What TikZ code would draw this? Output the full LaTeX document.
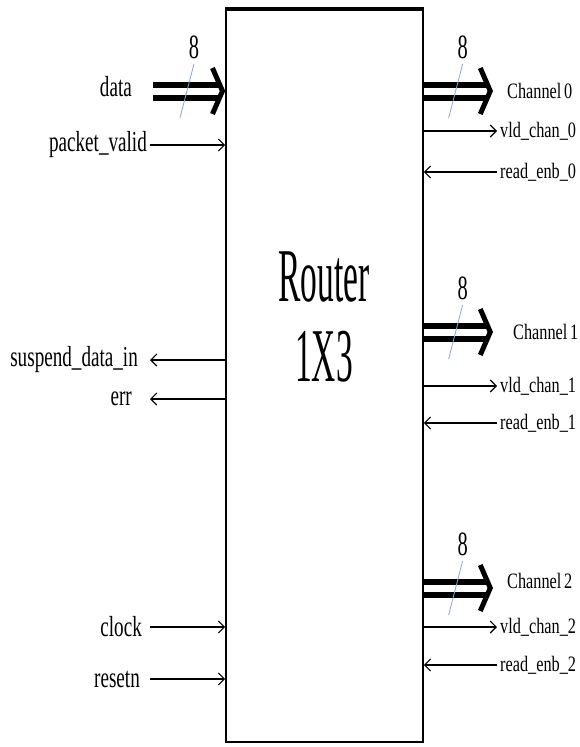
\documentclass[tikz,border=0pt]{standalone}
\usepackage{fontspec}
\setmainfont{Liberation Serif}
\usepackage{tikz}
\usetikzlibrary{arrows.meta,positioning,calc}
\definecolor{slashblue}{RGB}{140,165,205}

\begin{document}
\begin{tikzpicture}[
    x=1pt, y=-1pt,
    lbl/.style={font=\fontsize{29}{30}\selectfont, xscale=0.66, inner sep=0pt},
    rlbl/.style={font=\fontsize{22}{24}\selectfont, xscale=0.74, inner sep=0pt},
    num/.style={font=\fontsize{34}{36}\selectfont, xscale=0.6, inner sep=0pt, text=black},
    sig/.style={-{Straight Barb[length=6pt,width=12pt]}, line width=1.1pt},
    bus/.style={double, double distance=7pt, line width=6pt, -{Straight Barb[length=10pt,width=46pt,line width=5pt]}},
    tick/.style={slashblue, line width=0.8pt},
]
\useasboundingbox (0,0) rectangle (579,747);
% Router block
\node[draw, line width=1.6pt, minimum width=197pt, minimum height=732pt, inner sep=0pt] (router) at (324.5,376) {};
\draw[line width=3.5pt] (router.north west) -- (router.north east);
\node[font=\fontsize{76}{80}\selectfont, xscale=0.44, align=center, inner sep=0pt] (title) at (324,317) {Router\\1X3};
% Left ports
\coordinate (dtail) at (153,91);
\coordinate (pvtail) at (150,145);
\coordinate (sdtip) at (150,360);
\coordinate (errtip) at (150,399);
\coordinate (clktail) at (150,627);
\coordinate (rsttail) at (150,679);
\node[lbl, left=21pt of dtail, yshift=4pt] (data) {data};
\node[lbl, left=3pt of pvtail] (pvalid) {packet\_valid};
\node[lbl, left=12pt of sdtip] (susp) {suspend\_data\_in};
\node[lbl, left=18pt of errtip] (err) {err};
\node[lbl, left=8pt of clktail] (clock) {clock};
\node[lbl, left=10pt of rsttail] (resetn) {resetn};
\draw[bus] (dtail) -- (dtail -| router.west);
\draw[sig] (pvtail) -- (pvtail -| router.west);
\draw[sig] (sdtip -| router.west) -- (sdtip);
\draw[sig] (errtip -| router.west) -- (errtip);
\draw[sig] (clktail) -- (clktail -| router.west);
\draw[sig] (rsttail) -- (rsttail -| router.west);
\draw[tick] ($(dtail)!0.47!(dtail -| router.west)$) ++(-7,27) -- ++(14,-54) node[num, above=5pt] (wdata) {8};
% Right ports, channel 0
\coordinate (ch0tip) at (493,91);
\coordinate (vld0tip) at (497,131);
\coordinate (rd0tail) at (497,172);
\draw[bus] (ch0tip -| router.east) -- (ch0tip);
\draw[sig] (vld0tip -| router.east) -- (vld0tip);
\draw[sig] (rd0tail) -- (rd0tail -| router.east);
\draw[tick] ($(ch0tip -| router.east)!0.46!(ch0tip)$) ++(-7,27) -- ++(14,-54) node[num, above=5pt] (wch0) {8};
\node[rlbl, right=14pt of ch0tip] (chan0) {Channel\,0};
\node[rlbl, right=3pt of vld0tip] (vld0) {vld\_chan\_0};
\node[rlbl, right=3pt of rd0tail] (rd0) {read\_enb\_0};
% Right ports, channel 1
\coordinate (ch1tip) at (493,332);
\coordinate (vld1tip) at (497,386);
\coordinate (rd1tail) at (497,423);
\draw[bus] (ch1tip -| router.east) -- (ch1tip);
\draw[sig] (vld1tip -| router.east) -- (vld1tip);
\draw[sig] (rd1tail) -- (rd1tail -| router.east);
\draw[tick] ($(ch1tip -| router.east)!0.46!(ch1tip)$) ++(-7,27) -- ++(14,-54) node[num, above=5pt] (wch1) {8};
\node[rlbl, right=20pt of ch1tip] (chan1) {Channel\,1};
\node[rlbl, right=3pt of vld1tip] (vld1) {vld\_chan\_1};
\node[rlbl, right=3pt of rd1tail] (rd1) {read\_enb\_1};
% Right ports, channel 2
\coordinate (ch2tip) at (493,588);
\coordinate (vld2tip) at (497,627);
\coordinate (rd2tail) at (497,665);
\draw[bus] (ch2tip -| router.east) -- (ch2tip);
\draw[sig] (vld2tip -| router.east) -- (vld2tip);
\draw[sig] (rd2tail) -- (rd2tail -| router.east);
\draw[tick] ($(ch2tip -| router.east)!0.46!(ch2tip)$) ++(-7,27) -- ++(14,-54) node[num, above=5pt] (wch2) {8};
\node[rlbl, right=14pt of ch2tip, yshift=7pt] (chan2) {Channel\,2};
\node[rlbl, right=3pt of vld2tip] (vld2) {vld\_chan\_2};
\node[rlbl, right=3pt of rd2tail] (rd2) {read\_enb\_2};
\end{tikzpicture}
\end{document}
